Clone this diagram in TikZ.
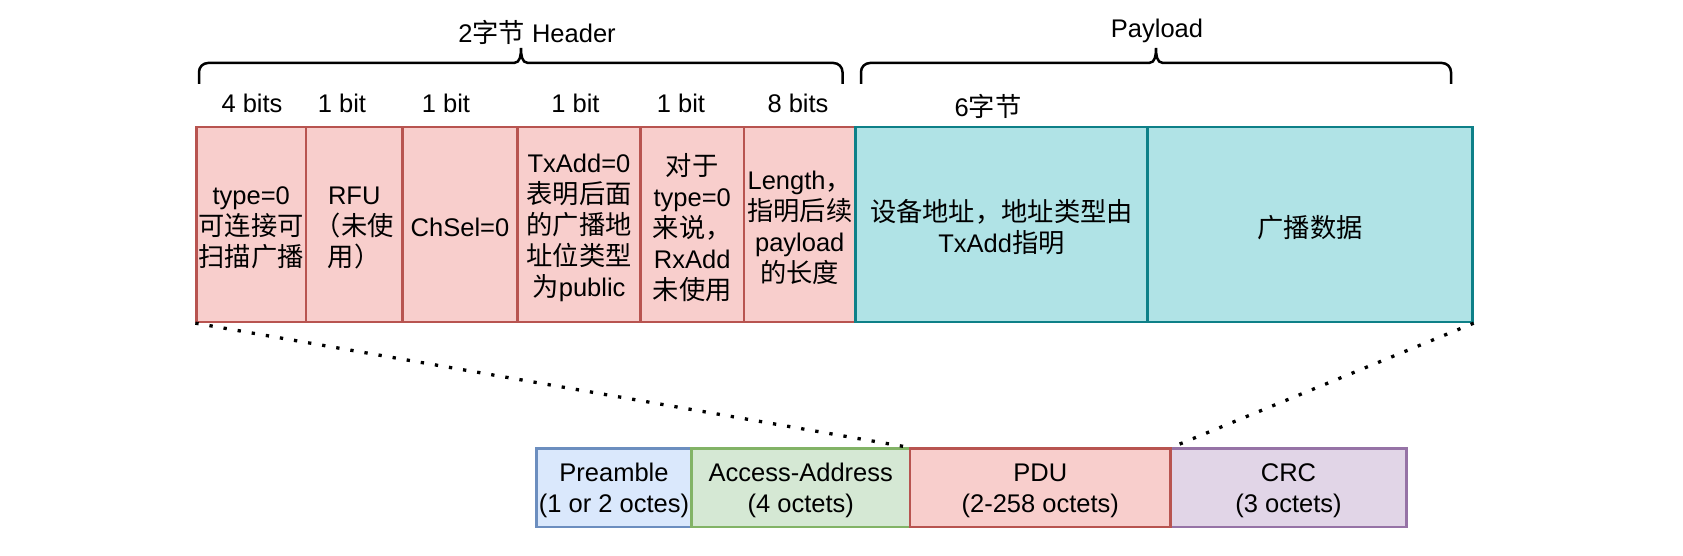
\documentclass[tikz,border=0pt]{standalone}
\usepackage{fontspec}
\setmainfont{Liberation Sans}
\newfontfamily\cjk[Scale=1.03]{Noto Sans CJK SC}
\newcommand\zh[1]{{\cjk #1}}
\definecolor{rfill}{HTML}{F8CECC}\definecolor{rline}{HTML}{B85450}
\definecolor{tfill}{HTML}{B0E3E6}\definecolor{tline}{HTML}{0E8088}
\definecolor{bfill}{HTML}{DAE8FC}\definecolor{bline}{HTML}{6C8EBF}
\definecolor{gfill}{HTML}{D5E8D4}\definecolor{gline}{HTML}{82B366}
\definecolor{pfill}{HTML}{E1D5E7}\definecolor{pline}{HTML}{9673A6}
\begin{document}
\begin{tikzpicture}[x=1pt,y=-1pt,
  every node/.style={font=\fontsize{25.5}{31}\selectfont, inner sep=0pt, align=center, text=black},
  cell/.style={draw, line width=2.3pt, inner sep=0pt, align=center},
  redbox/.style={cell, fill=rfill, draw=rline, minimum height=195pt},
  tealbox/.style={cell, fill=tfill, draw=tline, minimum height=195pt},
  lowbox/.style={cell, minimum height=78.5pt},
  boxtext/.style={yshift=-3pt},
  lbl/.style={anchor=base},
  dotline/.style={line width=3.3pt, dash pattern=on 3.3pt off 11pt, black},
  brace/.style={line width=2.5pt, black}
]
\useasboundingbox (0,0) rectangle (1683,556);

% top header fields
\node[redbox, minimum width=109.5pt] (t1) at (251.25,224.5) {};
\node[boxtext] (t1x) at (t1.center) {type=0\\\zh{可连接可}\\\zh{扫描广播}};
\node[redbox, minimum width=96.5pt] (t2) at (354.25,224.5) {};
\node[boxtext] (t2x) at (t2.center) {RFU\\\zh{（未使}\\\zh{用）}};
\node[redbox, minimum width=115pt] (t3) at (460,224.5) {};
\node[boxtext] (t3x) at (t3.center) {ChSel=0};
\node[redbox, minimum width=123pt] (t4) at (579,224.5) {};
\node[boxtext] (t4x) at (t4.center) {TxAdd=0\\\zh{表明后面}\\\zh{的广播地}\\\zh{址位类型}\\\zh{为}public};
\node[redbox, minimum width=103.5pt] (t5) at (692.25,224.5) {};
\node[boxtext] (t5x) at (t5.center) {\zh{对于}\\type=0\\\zh{来说，}\\RxAdd\\\zh{未使用}};
\node[redbox, minimum width=111.5pt] (t6) at (799.75,224.5) {};
\node[boxtext] (t6x) at (t6.center) {Length\zh{，}\\\zh{指明后续}\\payload\\\zh{的长度}};
% payload fields
\node[tealbox, minimum width=292pt] (p1) at (1001.5,224.5) {};
\node[boxtext] (p1x) at (p1.center) {\zh{设备地址，地址类型由}\\TxAdd\zh{指明}};
\node[tealbox, minimum width=325pt] (p2) at (1310,224.5) {};
\node[boxtext] (p2x) at (p2.center) {\zh{广播数据}};

% bit labels
\node[lbl] (l1) at (252,113) {4 bits};
\node[lbl] (l2) at (342,113) {1 bit};
\node[lbl] (l3) at (446,113) {1 bit};
\node[lbl] (l4) at (575.5,113) {1 bit};
\node[lbl] (l5) at (681,113) {1 bit};
\node[lbl] (l6) at (798,113) {8 bits};
\node[lbl] (l7) at (988,117) {6\zh{字节}};

% braces
\node[lbl] (hh) at (537,43) {2\zh{字节} Header};
\node[lbl] (hp) at (1157,37.5) {Payload};
\draw[brace] (199,84) -- (199,72) to[out=90,in=180] (208,63) -- (514,63)
  to[out=0,in=270] (521,48) to[out=270,in=180] (528,63) -- (833.5,63)
  to[out=0,in=90] (842.5,72) -- (842.5,84);
\draw[brace] (861,84) -- (861,72) to[out=90,in=180] (870,63) -- (1149,63)
  to[out=0,in=270] (1156,48) to[out=270,in=180] (1163,63) -- (1442,63)
  to[out=0,in=90] (1451,72) -- (1451,84);

% bottom packet
\node[lowbox, fill=bfill, draw=bline, minimum width=155pt] (b1) at (614,487.75) {};
\node[boxtext] (b1x) at (b1.center) {Preamble\\(1 or 2 octes)};
\node[lowbox, fill=gfill, draw=gline, minimum width=218.5pt] (b2) at (800.75,487.75) {};
\node[boxtext] (b2x) at (b2.center) {Access-Address\\(4 octets)};
\node[lowbox, fill=pfill, draw=pline, minimum width=236pt] (b4) at (1288.5,487.75) {};
\node[boxtext] (b4x) at (b4.center) {CRC\\(3 octets)};
\node[lowbox, fill=rfill, draw=rline, minimum width=260.5pt] (b3) at (1040.25,487.75) {};
\node[boxtext] (b3x) at (b3.center) {PDU\\(2-258 octets)};

% dotted connectors
\draw[dotline] (t1.south west) -- (b3.north west);
\draw[dotline] (p2.south east) -- (b3.north east);
\end{tikzpicture}
\end{document}
